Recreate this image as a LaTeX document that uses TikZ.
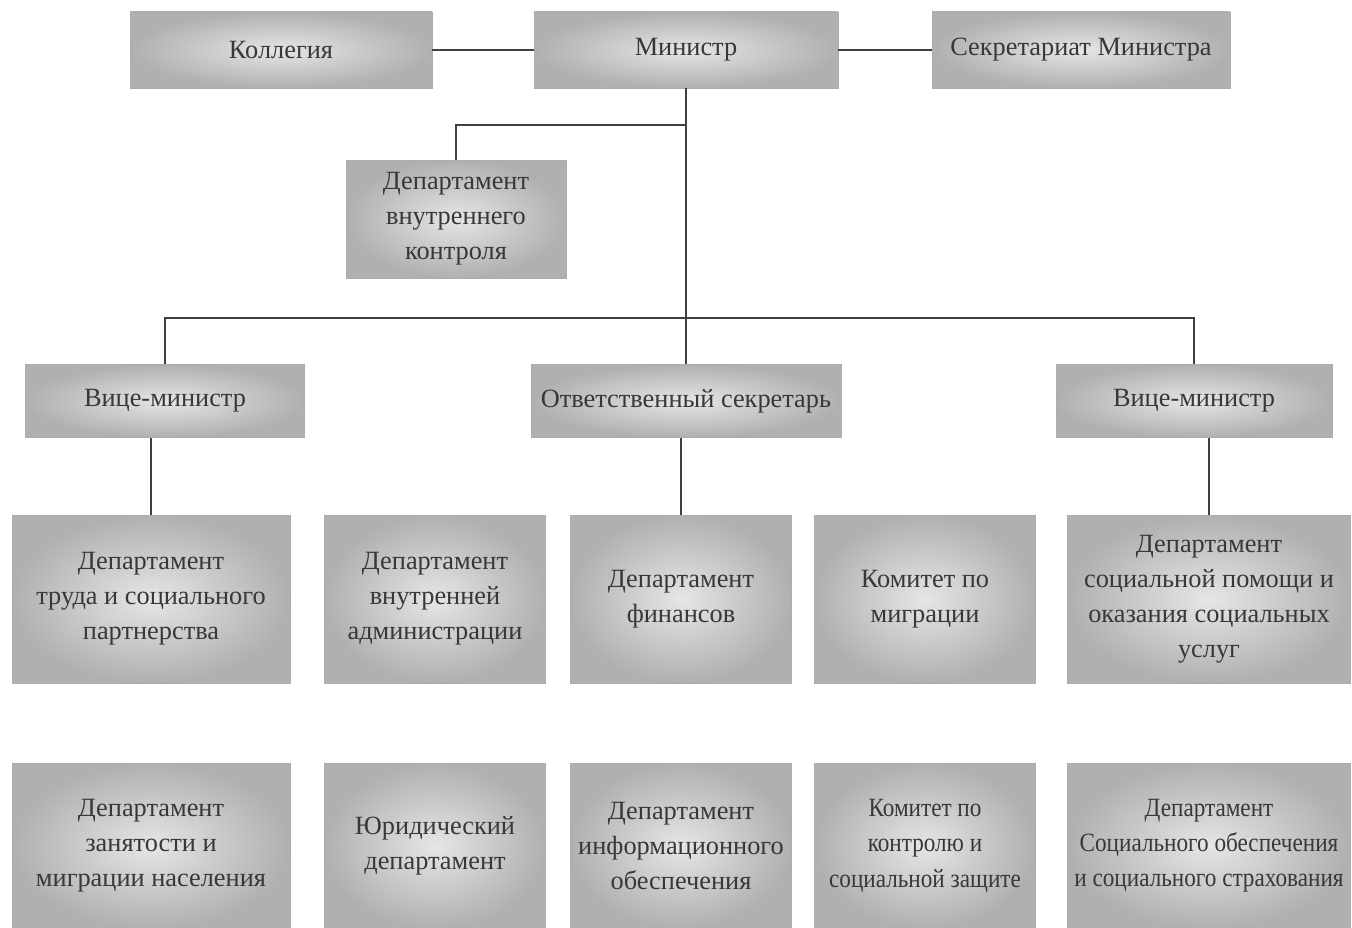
\documentclass[tikz,border=0pt]{standalone}
\usepackage{fontspec}
\setmainfont{Liberation Serif}
\begin{document}
\begin{tikzpicture}[x=0.02cm,y=-0.02cm,
  box/.style={shade,inner color=gray!20,outer color=gray!62,draw=gray!65,
    align=center,inner sep=0pt,text=black!78,font=\fontsize{15}{20}\selectfont},
  narrow/.style={font=\fontsize{15}{20}\selectfont\addfontfeature{FakeStretch=0.88}},
  link/.style={draw=black!75,line width=1.1pt}]
\useasboundingbox (0,0) rectangle (1352,928);
% top row
\node[box,minimum width=6.04cm,minimum height=1.52cm] (kol) at (281,50) {Коллегия};
\node[box,minimum width=6.08cm,minimum height=1.52cm] (min) at (686,50) {Министр};
\node[box,minimum width=5.96cm,minimum height=1.52cm] (sec) at (1081,50) {Секретариат Министра};
\node[box,minimum width=4.4cm,minimum height=2.36cm] (dvk) at (456,219)
  {Департамент\\внутреннего\\контроля};
% deputies
\node[box,minimum width=5.58cm,minimum height=1.46cm] (vml) at (165,401) {Вице-министр};
\node[box,minimum width=6.2cm,minimum height=1.46cm] (os) at (686,401) {Ответственный секретарь};
\node[box,minimum width=5.52cm,minimum height=1.46cm] (vmr) at (1194,401) {Вице-министр};
% departments, row 1
\node[box,minimum width=5.56cm,minimum height=3.36cm] (dtr) at (151,599)
  {Департамент\\труда и социального\\партнерства};
\node[box,minimum width=4.42cm,minimum height=3.36cm] (dva) at (435,599)
  {Департамент\\внутренней\\администрации};
\node[box,minimum width=4.42cm,minimum height=3.36cm] (dfin) at (681,599)
  {Департамент\\финансов};
\node[box,minimum width=4.42cm,minimum height=3.36cm] (kmig) at (925,599)
  {Комитет по\\миграции};
\node[box,minimum width=5.66cm,minimum height=3.36cm] (dsp) at (1209,599)
  {Департамент\\социальной помощи и\\оказания социальных\\услуг};
% departments, row 2
\node[box,minimum width=5.56cm,minimum height=3.3cm] (dzan) at (151,846)
  {Департамент\\занятости и\\миграции населения};
\node[box,minimum width=4.42cm,minimum height=3.3cm] (yur) at (435,846)
  {Юридический\\департамент};
\node[box,minimum width=4.42cm,minimum height=3.3cm] (dinf) at (681,846)
  {Департамент\\информационного\\обеспечения};
\node[box,narrow,minimum width=4.42cm,minimum height=3.3cm] (kkon) at (925,846)
  {Комитет по\\контролю и\\социальной защите};
\node[box,narrow,minimum width=5.66cm,minimum height=3.3cm] (dsoc) at (1209,846)
  {Департамент\\Социального обеспечения\\и социального страхования};
% links
\coordinate (j1) at (686,125);
\coordinate (j2) at (686,318);
\draw[link] (kol) -- (min);
\draw[link] (min) -- (sec);
\draw[link] (min.south) -- (os.north);
\draw[link] (j1) -| (dvk.north);
\draw[link] (vml.north) |- (j2) -| (vmr.north);
\draw[link] (dtr.north) -- (dtr.north |- vml.south);
\draw[link] (dfin.north) -- (dfin.north |- os.south);
\draw[link] (dsp.north) -- (dsp.north |- vmr.south);
\end{tikzpicture}
\end{document}
